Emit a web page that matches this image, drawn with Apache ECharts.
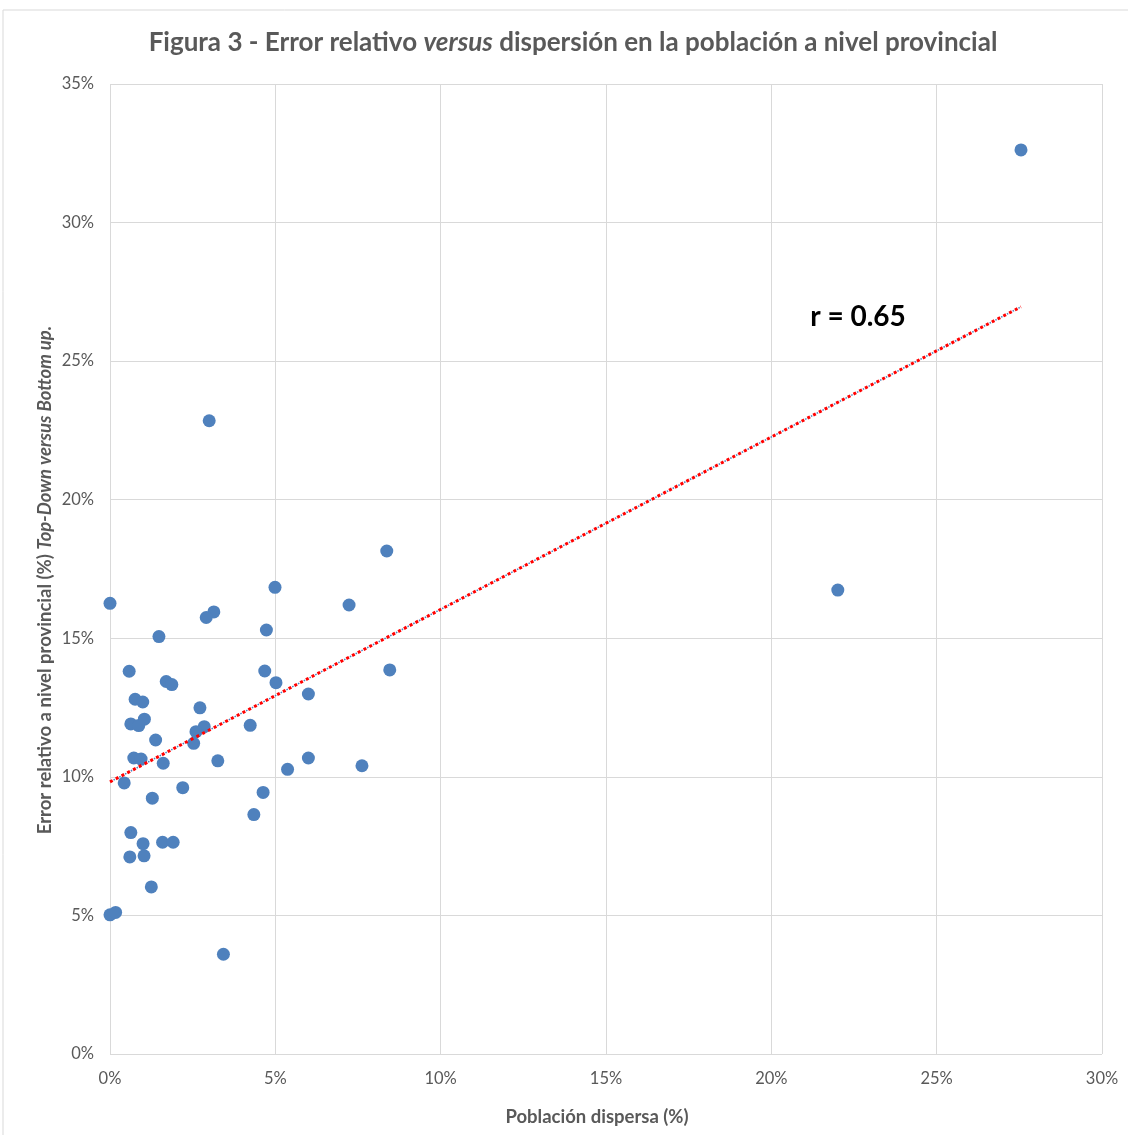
<!DOCTYPE html>
<html>
<head>
<meta charset="utf-8">
<script src="https://cdn.jsdelivr.net/npm/echarts@6/dist/echarts.min.js"></script>
<style>
html,body{margin:0;padding:0;background:#fff;}
#chart{width:1128px;height:1135px;}
</style>
</head>
<body>
<div id="chart"></div>
<script>
// Población dispersa (%) — x values
const poblacionDispersa = [27.55, 22.01, 3.00, 8.37, 8.46, 7.23, 7.62, 4.99, 4.73, 4.68, 5.02, 6.00, 6.00, 5.37, 4.63, 4.24, 4.35, 3.14, 2.91, 0.00, 1.48, 0.58, 1.70, 1.87, 0.76, 0.99, 2.72, 1.04, 0.63, 0.87, 2.85, 1.38, 2.60, 2.53, 0.72, 0.94, 1.61, 3.26, 0.43, 1.28, 2.20, 0.63, 1.00, 1.59, 1.91, 0.60, 1.03, 1.25, 0.00, 0.17, 3.43];
// Error relativo a nivel provincial (%) — y values
const errorRelativo = [32.62, 16.74, 22.85, 18.15, 13.86, 16.20, 10.40, 16.84, 15.30, 13.82, 13.40, 12.99, 10.68, 10.27, 9.44, 11.86, 8.64, 15.95, 15.75, 16.26, 15.06, 13.81, 13.44, 13.33, 12.80, 12.70, 12.49, 12.08, 11.91, 11.85, 11.81, 11.33, 11.63, 11.21, 10.68, 10.64, 10.49, 10.58, 9.78, 9.23, 9.61, 7.99, 7.59, 7.64, 7.64, 7.11, 7.15, 6.03, 5.02, 5.11, 3.60];
// Trend line endpoints
const trendX = [0, 27.55];
const trendY = [9.82, 26.96];
const xTicks = [0, 5, 10, 15, 20, 25, 30];
const yTicks = [0, 5, 10, 15, 20, 25, 30, 35];
const rLabel = 'r = 0.65';
const xName = 'Población dispersa (%)';
const yNamePlain = 'Error relativo a nivel provincial (%) ';
const yNameItalic = 'Top-Down versus Bottom up.';

const FONT = 'Lato, "Open Sans", sans-serif';
const GREY = '#595959';
const points = poblacionDispersa.map((x, i) => [x, errorRelativo[i]]);
const trend = trendX.map((x, i) => [x, trendY[i]]);

const chart = echarts.init(document.getElementById('chart'), null, {renderer: 'canvas'});
chart.setOption({
  animation: false,
  backgroundColor: '#ffffff',
  grid: {left: 110, right: 26, top: 84, bottom: 81, containLabel: false},
  graphic: [
    {type: 'rect', shape: {x: 3, y: 10, width: 1300, height: 1300}, style: {fill: 'none', stroke: '#d9d9d9', lineWidth: 1}, silent: true, z: -10},
    {type: 'text', x: 573, y: 43, style: {text: 'Figura 3 - Error relativo {i|versus} dispersión en la población a nivel provincial', align: 'center', verticalAlign: 'middle', fontFamily: FONT, fontWeight: 'bold', fontSize: 26, fill: GREY,
      rich: {i: {fontStyle: 'italic', fontWeight: 'bold', fontFamily: FONT, fontSize: 26, fill: GREY}}}},
    {type: 'text', x: 858, y: 317, z: 20, style: {text: rLabel, align: 'center', verticalAlign: 'middle', fontFamily: FONT, fontWeight: 'bold', fontSize: 28, fill: '#000000'}},
    {type: 'text', x: 597, y: 1117, style: {text: xName, align: 'center', verticalAlign: 'middle', fontFamily: FONT, fontWeight: 'bold', fontSize: 18.5, fill: GREY}},
    {type: 'text', x: 45, y: 580, rotation: Math.PI / 2, style: {text: '{a|' + yNamePlain + '}{b|' + yNameItalic + '}', align: 'center', verticalAlign: 'middle', fontFamily: FONT, fontWeight: 'bold', fontSize: 18.5, fill: GREY,
      rich: {a: {fontFamily: FONT, fontWeight: 'bold', fontSize: 18.5, fill: GREY}, b: {fontFamily: FONT, fontWeight: 'bold', fontStyle: 'italic', fontSize: 18.5, fill: GREY}}}}
  ],
  xAxis: {
    type: 'value', min: xTicks[0], max: xTicks[xTicks.length - 1], interval: 5,
    axisLine: {show: false}, axisTick: {show: false},
    axisLabel: {formatter: v => v + '%', fontFamily: FONT, fontSize: 16.5, color: GREY, margin: 16},
    splitLine: {show: true, lineStyle: {color: '#d9d9d9', width: 1}}
  },
  yAxis: {
    type: 'value', min: yTicks[0], max: yTicks[yTicks.length - 1], interval: 5,
    axisLine: {show: false}, axisTick: {show: false},
    axisLabel: {formatter: v => v + '%', fontFamily: FONT, fontSize: 16.5, color: GREY, margin: 16},
    splitLine: {show: true, lineStyle: {color: '#d9d9d9', width: 1}}
  },
  series: [
    {type: 'scatter', data: points, symbolSize: 13, itemStyle: {color: '#4f81bd', opacity: 1}, z: 3},
    {type: 'line', data: trend, symbol: 'none', lineStyle: {color: '#4f81bd', width: 1.5, type: [1.5, 5], dashOffset: -4}, z: 4, silent: true},
    {type: 'line', data: trend, symbol: 'none', lineStyle: {color: '#ff0000', width: 3, type: [3, 3.5]}, z: 5, silent: true}
  ]
});
</script>
</body>
</html>
